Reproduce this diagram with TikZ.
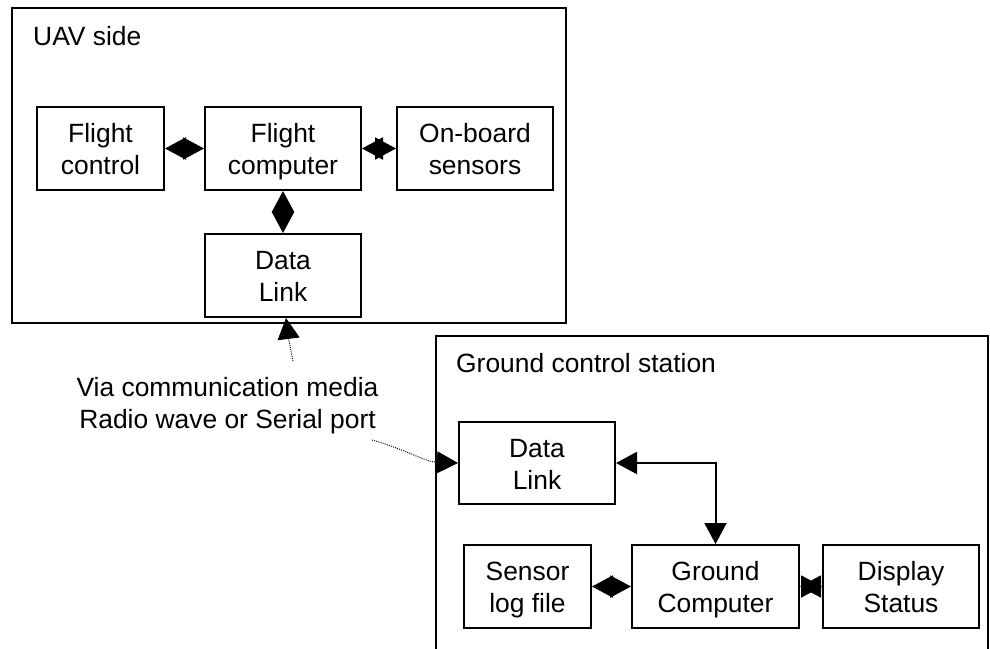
\documentclass[tikz,border=0pt]{standalone}
\usepackage{fontspec}
\setmainfont{Liberation Sans}
\usetikzlibrary{arrows.meta}
% strut that keeps two-line labels at the same height in every box
\newcommand\lnstrut{\vrule width 0pt height 26pt depth 5.6pt\relax}
\newcommand\twolines[2]{\lnstrut#1\\\lnstrut#2}
\begin{document}
\begin{tikzpicture}[x=1pt,y=-1pt,
  every node/.style={font=\fontsize{26.4}{32}\selectfont, inner sep=0pt},
  box/.style={draw, line width=2pt, align=center},
  frame/.style={draw, line width=2pt},
  tri/.tip={Triangle[length=21pt,width=22pt]},
  link/.style={line width=2pt, tri-tri},
  media/.style={line width=1pt, dash pattern=on 1pt off 1.2pt, -tri},
]
\useasboundingbox (0,0) rectangle (990,648);

% UAV side
\draw[frame] (12,8) rectangle (566,323);
\node[anchor=base west] (uavtitle) at (33,45) {UAV side};
\node[box, minimum width=127pt, minimum height=83pt] (fctl) at (100.5,148.5) {\twolines{Flight}{control}};
\node[box, minimum width=156pt, minimum height=83pt] (fcomp) at (283,148.5) {\twolines{Flight}{computer}};
\node[box, minimum width=156pt, minimum height=83pt] (sens) at (475,148.5) {\twolines{On-board}{sensors}};
\node[box, minimum width=156pt, minimum height=83pt] (udl) at (283,275.5) {\twolines{Data}{Link}};

\draw[link] (fctl.east) -- (fcomp.west);
\draw[link] (fcomp.east) -- (sens.west);
\draw[link] (fcomp.south) -- (udl.north);

% Communication medium
\node[anchor=north, align=center] (media) at (227.5,377) {Via communication media\\Radio wave or Serial port};
\coordinate (mup) at (293,361);
\coordinate (mright) at (372,440);
\draw[media] (mup) .. controls (290,350) .. ([xshift=3pt]udl.south);

% Ground control station
\draw[frame] (436,655) -- (436,336) -- (988,336) -- (988,655);
\node[anchor=base west] (gcstitle) at (456,372) {Ground control station};
\node[box, minimum width=156pt, minimum height=82pt] (gdl) at (537,463) {\twolines{Data}{Link}};
\node[box, minimum width=127pt, minimum height=83pt] (slog) at (527.5,586.5) {\twolines{Sensor}{log file}};
\node[box, minimum width=167pt, minimum height=83pt] (gcomp) at (715.5,586.5) {\twolines{Ground}{Computer}};
\node[box, minimum width=156pt, minimum height=83pt] (disp) at (901,586.5) {\twolines{Display}{Status}};

\draw[media] (mright) .. controls (405,449) and (425,462) .. (gdl.west);
\draw[link] (gdl.east) -| (gcomp.north);
\draw[link] (slog.east) -- (gcomp.west);
\draw[link] (gcomp.east) -- (disp.west);
\end{tikzpicture}
\end{document}
